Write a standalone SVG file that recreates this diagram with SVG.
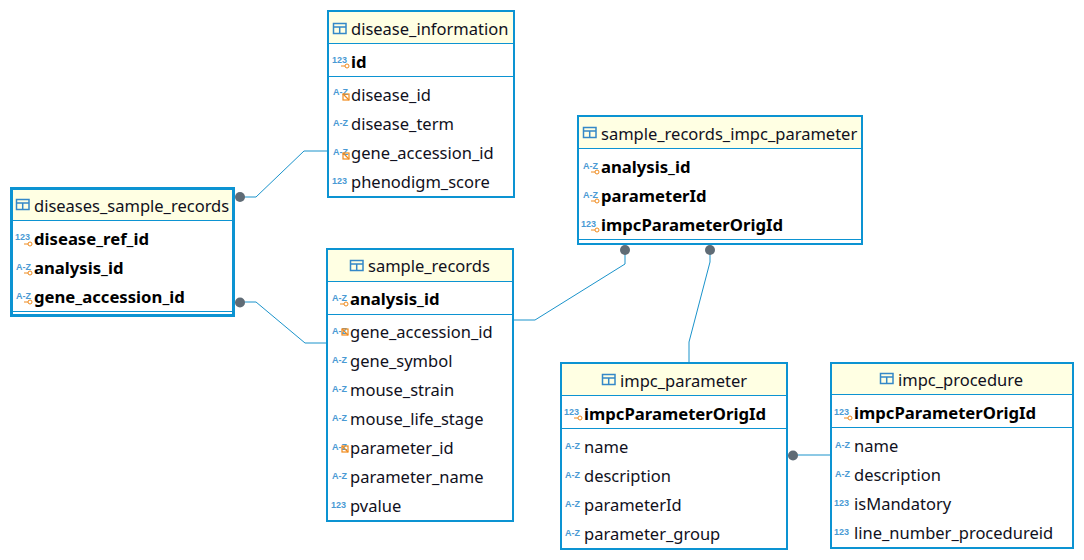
<svg xmlns="http://www.w3.org/2000/svg" width="1084" height="560" viewBox="0 0 1084 560">
<style>
.box{fill:#fff;stroke:#0c93d2;stroke-width:2}
.box3{fill:#fff;stroke:#0c93d2;stroke-width:3}
.head{fill:#ffffe3}
.sep{stroke:#0c93d2;stroke-width:1;fill:none}
.t{font-family:"Noto Sans","Open Sans",sans-serif;font-size:16.5px;fill:#101020}
.b{font-weight:700;font-size:16.7px;fill:#000}
.ic{font-family:"Liberation Sans",sans-serif;font-size:9px;font-weight:700;fill:#4a9ad4}
.k{fill:none;stroke:#f08a1c;stroke-width:1}
.tb{fill:none;stroke:#3488c8;stroke-width:1.5}
.fk{fill:none;stroke:#f08a1c;stroke-width:1.2}
.conn{fill:none;stroke:#1a93cb;stroke-width:1}
.dot{fill:#5f6b75}
</style>
<defs>
<g id="tbl"><rect class="tb" x="0.5" y="0.5" width="12.500" height="10"/><path class="tb" d="M0.500 4H13M6.700 4V10.500"/></g>
<g id="key"><path class="k" d="M0 3H4"/><circle class="k" cx="6" cy="3" r="2"/></g>
<g id="fkic"><rect class="fk" x="0" y="0" width="6" height="6"/><path class="fk" d="M0 0L6 6"/></g>
</defs>
<g id="connectors">
<path class="conn" d="M240 197H256L304 151H328"/>
<path class="conn" d="M240 302H256L305 343H327"/>
<path class="conn" d="M625 250V264L535 320H514"/>
<path class="conn" d="M710 250V262L689 342V362"/>
<path class="conn" d="M793 455H830"/>
<circle class="dot" cx="240" cy="197" r="5"/>
<circle class="dot" cx="240" cy="302.500" r="5"/>
<circle class="dot" cx="625" cy="250" r="5"/>
<circle class="dot" cx="710" cy="250" r="5"/>
<circle class="dot" cx="793" cy="455.500" r="5"/>
</g>
<g id="disease_information">
<rect class="box" x="328" y="11" width="186" height="186"/>
<rect class="head" x="329" y="12" width="184" height="31"/>
<path class="sep" d="M328 43.500H514M328 76.500H514"/>
<use href="#tbl" x="333" y="23"/>
<text class="t" x="351" y="35">disease_information</text>
<text class="ic" x="332" y="63">123</text><use href="#key" x="341" y="63"/>
<text class="t b" x="351" y="68">id</text>
<text class="ic" x="333" y="95">A-Z</text><use href="#fkic" x="343" y="94"/>
<text class="t" x="351" y="101">disease_id</text>
<text class="ic" x="333" y="126">A-Z</text>
<text class="t" x="351" y="130">disease_term</text>
<text class="ic" x="333" y="155">A-Z</text><use href="#fkic" x="343" y="153"/>
<text class="t" x="351" y="159">gene_accession_id</text>
<text class="ic" x="332" y="184">123</text>
<text class="t" x="351" y="188">phenodigm_score</text>
</g>
<g id="diseases_sample_records">
<rect class="box3" x="11.500" y="188.500" width="222" height="127"/>
<rect class="head" x="13" y="190" width="219" height="30"/>
<path class="sep" d="M13 220.500H232M13 311.500H232"/>
<use href="#tbl" x="16" y="199"/>
<text class="t" x="34" y="212">diseases_sample_records</text>
<text class="ic" x="15" y="240">123</text><use href="#key" x="24" y="241"/>
<text class="t b" x="34" y="245">disease_ref_id</text>
<text class="ic" x="16" y="270">A-Z</text><use href="#key" x="24" y="270"/>
<text class="t b" x="34" y="274">analysis_id</text>
<text class="ic" x="16" y="299">A-Z</text><use href="#key" x="24" y="299"/>
<text class="t b" x="34" y="303">gene_accession_id</text>
</g>
<g id="sample_records">
<rect class="box" x="327" y="249" width="186" height="272"/>
<rect class="head" x="328" y="250" width="184" height="31"/>
<path class="sep" d="M327 281.500H513M327 314.500H513"/>
<use href="#tbl" x="350" y="260"/>
<text class="t" x="368" y="272">sample_records</text>
<text class="ic" x="332" y="301">A-Z</text><use href="#key" x="340" y="301"/>
<text class="t b" x="350" y="305">analysis_id</text>
<text class="ic" x="332" y="334">A-Z</text><use href="#fkic" x="342" y="329"/>
<text class="t" x="350" y="338">gene_accession_id</text>
<text class="ic" x="332" y="363">A-Z</text>
<text class="t" x="350" y="367">gene_symbol</text>
<text class="ic" x="332" y="392">A-Z</text>
<text class="t" x="350" y="396">mouse_strain</text>
<text class="ic" x="332" y="421">A-Z</text>
<text class="t" x="350" y="425">mouse_life_stage</text>
<text class="ic" x="332" y="450">A-Z</text><use href="#fkic" x="342" y="446"/>
<text class="t" x="350" y="454">parameter_id</text>
<text class="ic" x="332" y="479">A-Z</text>
<text class="t" x="350" y="483">parameter_name</text>
<text class="ic" x="331" y="508">123</text>
<text class="t" x="350" y="512">pvalue</text>
</g>
<g id="sample_records_impc_parameter">
<rect class="box" x="578" y="116" width="284" height="128"/>
<rect class="head" x="579" y="117" width="282" height="31"/>
<path class="sep" d="M578 148.500H862M578 239.500H862"/>
<use href="#tbl" x="583" y="127"/>
<text class="t" x="601" y="140">sample_records_impc_parameter</text>
<text class="ic" x="583" y="169">A-Z</text><use href="#key" x="591" y="169"/>
<text class="t b" x="601" y="173">analysis_id</text>
<text class="ic" x="583" y="198">A-Z</text><use href="#key" x="591" y="198"/>
<text class="t b" x="601" y="202">parameterId</text>
<text class="ic" x="581" y="227">123</text><use href="#key" x="591" y="227"/>
<text class="t b" x="601" y="231">impcParameterOrigId</text>
</g>
<g id="impc_parameter">
<rect class="box" x="561" y="363" width="226" height="186"/>
<rect class="head" x="562" y="364" width="224" height="31"/>
<path class="sep" d="M561 395.500H787M561 428.500H787"/>
<use href="#tbl" x="602" y="374"/>
<text class="t" x="620" y="387">impc_parameter</text>
<text class="ic" x="564" y="415">123</text><use href="#key" x="574" y="415"/>
<text class="t b" x="584" y="420">impcParameterOrigId</text>
<text class="ic" x="565" y="449">A-Z</text>
<text class="t" x="584" y="453">name</text>
<text class="ic" x="565" y="478">A-Z</text>
<text class="t" x="584" y="482">description</text>
<text class="ic" x="565" y="507">A-Z</text>
<text class="t" x="584" y="511">parameterId</text>
<text class="ic" x="565" y="536">A-Z</text>
<text class="t" x="584" y="540">parameter_group</text>
</g>
<g id="impc_procedure">
<rect class="box" x="831" y="363" width="242" height="185"/>
<rect class="head" x="832" y="364" width="240" height="30"/>
<path class="sep" d="M831 394.500H1073M831 427.500H1073"/>
<use href="#tbl" x="880" y="373"/>
<text class="t" x="898" y="386">impc_procedure</text>
<text class="ic" x="834" y="415">123</text><use href="#key" x="844" y="415"/>
<text class="t b" x="854" y="419">impcParameterOrigId</text>
<text class="ic" x="835" y="448">A-Z</text>
<text class="t" x="854" y="452">name</text>
<text class="ic" x="835" y="477">A-Z</text>
<text class="t" x="854" y="481">description</text>
<text class="ic" x="834" y="506">123</text>
<text class="t" x="854" y="510">isMandatory</text>
<text class="ic" x="834" y="535">123</text>
<text class="t" x="854" y="539">line_number_procedureid</text>
</g>
</svg>
